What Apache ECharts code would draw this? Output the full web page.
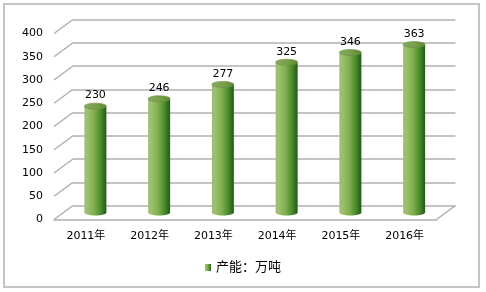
<!DOCTYPE html>
<html><head><meta charset="utf-8">
<script src="https://cdn.jsdelivr.net/npm/echarts@6/dist/echarts.min.js"></script>
<style>html,body{margin:0;padding:0;background:#fff}#c{width:486px;height:292px}</style>
</head><body><div id="c"></div>
<script>
const categories = ['2011年', '2012年', '2013年', '2014年', '2015年', '2016年'];
const seriesName = '产能：万吨';
const values = [230, 246, 277, 325, 346, 363];
const yTicks = [0, 50, 100, 150, 200, 250, 300, 350, 400];

const yMin = yTicks[0], yMax = yTicks[yTicks.length - 1], yStep = yTicks[1] - yTicks[0];
const FONT = '"DejaVu Sans", "Noto Sans CJK SC", sans-serif';
const GRID_COLOR = '#b0b0b0';
const W = 382.5, H = 186;
const FRONT = { left: 54, top: 33.5 }, BACK = { left: 73, top: 19.5 };
const MID = { left: (FRONT.left + BACK.left) / 2, top: (FRONT.top + BACK.top) / 2 + 1 };
const DX = BACK.left - FRONT.left, DY = FRONT.top - BACK.top;

const chart = echarts.init(document.getElementById('c'), null, { renderer: 'canvas' });

const barGrad = () => new echarts.graphic.LinearGradient(0, 0, 1, 0, [
  { offset: 0, color: '#a3b987' },
  { offset: 0.15, color: '#9cc06c' },
  { offset: 0.45, color: '#82ae4e' },
  { offset: 0.75, color: '#4a8a2a' },
  { offset: 1, color: '#1d5e10' }
]);
const topGrad = () => new echarts.graphic.LinearGradient(0, 0, 1, 0, [
  { offset: 0, color: '#8aa868' },
  { offset: 0.5, color: '#7a9f4a' },
  { offset: 1, color: '#5a8a30' }
]);

chart.setOption({
  animation: false,
  backgroundColor: '#fff',
  graphic: [{
    type: 'rect', shape: { x: 4, y: 4, width: 475, height: 283 },
    style: { fill: null, stroke: '#c4c4c4', lineWidth: 2 }, silent: true
  }],
  legend: {
    data: [seriesName], top: 256, left: 'center',
    itemWidth: 6, itemHeight: 7, icon: 'rect',
    textStyle: { fontFamily: FONT, fontSize: 13, color: '#000' }
  },
  grid: [
    { left: FRONT.left, top: FRONT.top, width: W, height: H },
    { left: MID.left, top: MID.top, width: W, height: H - 1 },
    { left: BACK.left, top: BACK.top, width: W, height: H }
  ],
  xAxis: [
    { type: 'category', gridIndex: 0, data: categories, boundaryGap: true,
      axisLine: { show: true, lineStyle: { color: GRID_COLOR, width: 1.5 } },
      axisTick: { show: false },
      axisLabel: { margin: 11, color: '#000', fontFamily: FONT, fontSize: 11 } },
    { type: 'category', gridIndex: 1, data: categories, show: false },
    { type: 'value', gridIndex: 2, min: 0, max: 1, show: false }
  ],
  yAxis: [
    { type: 'value', gridIndex: 0, min: yMin, max: yMax, interval: yStep,
      axisLine: { show: false }, axisTick: { show: false }, splitLine: { show: false },
      axisLabel: { margin: 11, color: '#000', fontFamily: FONT, fontSize: 11 } },
    { type: 'value', gridIndex: 1, min: yMin, max: yMax, interval: yStep, show: false },
    { type: 'value', gridIndex: 2, min: yMin, max: yMax, interval: yStep,
      axisLine: { show: false }, axisTick: { show: false }, axisLabel: { show: false },
      splitLine: { show: true, lineStyle: { color: GRID_COLOR, width: 1.5 } } }
  ],
  series: [
    { type: 'custom', name: 'depth', xAxisIndex: 2, yAxisIndex: 2, silent: true,
      data: yTicks.map(v => [0, v]).concat([[1, yMin]]),
      renderItem: function (params, api) {
        const p = api.coord([api.value(0), api.value(1)]);
        return { type: 'line', shape: { x1: p[0] - DX, y1: p[1] + DY, x2: p[0], y2: p[1] },
          style: { stroke: GRID_COLOR, lineWidth: 1.5 } };
      } },
    { type: 'custom', name: seriesName, xAxisIndex: 1, yAxisIndex: 1,
      itemStyle: { color: barGrad() },
      data: values.map((v, i) => [i, v]),
      renderItem: function (params, api) {
        const top = api.coord([api.value(0), api.value(1)]);
        const base = api.coord([api.value(0), yMin]);
        const bw = 22, rx = bw / 2, ry = 3;
        return { type: 'group', children: [
          { type: 'ellipse', shape: { cx: top[0], cy: base[1], rx: rx, ry: ry }, style: { fill: barGrad() } },
          { type: 'rect', shape: { x: top[0] - rx, y: top[1], width: bw, height: base[1] - top[1] }, style: { fill: barGrad() } },
          { type: 'ellipse', shape: { cx: top[0], cy: top[1], rx: rx, ry: ry }, style: { fill: topGrad(), stroke: '#6a9040', lineWidth: 0.6 } },
          { type: 'text', style: { text: String(api.value(1)), x: top[0], y: top[1] - 5, align: 'center', verticalAlign: 'bottom',
            fontFamily: FONT, fontSize: 11, fill: '#000' } }
        ] };
      } }
  ]
});
</script>
</body></html>
